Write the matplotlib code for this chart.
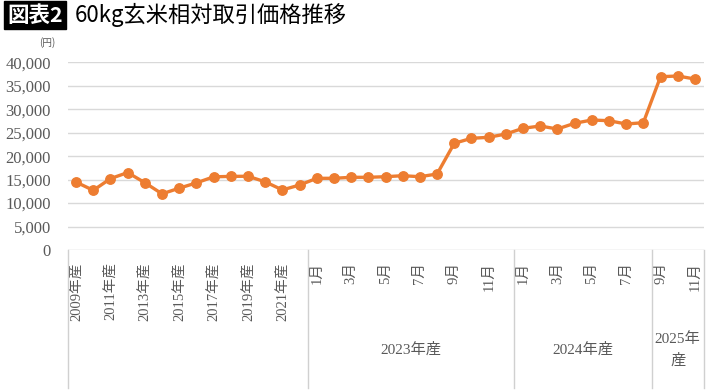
import matplotlib
matplotlib.use('Agg')
import matplotlib.pyplot as plt
import matplotlib.transforms as mtransforms


######################
years = ['2009年産', '2010年産', '2011年産', '2012年産', '2013年産', '2014年産', '2015年産',
         '2016年産', '2017年産', '2018年産', '2019年産', '2020年産', '2021年産', '2022年産']
year_prices = [14470, 12711, 15215, 16501, 14341, 11967, 13175,
               14307, 15595, 15688, 15716, 14529, 12804, 13844]

groups = ['2023年産', '2024年産', '2025年\n産']
group_months = [list(range(1, 13)), list(range(1, 9)), [9, 10, 11]]
month_prices = [
    [15279, 15279, 15492, 15492, 15620, 15833, 15620, 16196, 22737, 23803, 24016, 24720],
    [25934, 26424, 25785, 27000, 27703, 27554, 26851, 27128],
    [36930, 37079, 36440],
]
##########################

ORANGE = '#ED7D31'
GREY = '#595959'
SERIF = ['Liberation Serif', 'Noto Sans CJK JP']
SANS = ['Noto Sans CJK JP', 'DejaVu Sans']


def main():
    values = list(year_prices)
    labels = [y if i % 2 == 0 else '' for i, y in enumerate(years)]
    for months, prices in zip(group_months, month_prices):
        values += prices
        labels += ['{}月'.format(m) if m % 2 == 1 else '' for m in months]
    xs = list(range(len(values)))

    fig = plt.figure(figsize=(7.10, 3.91), dpi=100)
    ax = fig.add_axes([67.5 / 710, 1 - 250 / 391, 636 / 710, 187.7 / 391])

    for v in range(5000, 40001, 5000):
        ax.axhline(v, color='#D9D9D9', lw=1, zorder=0)
    ax.axhline(0, color='#D0D0D0', lw=1, zorder=0)

    ax.plot(xs, values, color=ORANGE, lw=2.4, marker='o', markersize=6.8, zorder=3)

    ax.set_xlim(-0.5, len(values) - 0.5)
    ax.set_ylim(0, 40000)
    for s in ax.spines.values():
        s.set_visible(False)

    ax.set_yticks(range(0, 40001, 5000))
    ax.set_yticklabels(['{:,}'.format(v) for v in range(0, 40001, 5000)],
                       family=SERIF, fontsize=12, color=GREY)
    ax.tick_params(axis='y', length=0, pad=12)

    ax.set_xticks(xs)
    ax.set_xticklabels(labels, rotation=90, va='top', ha='center',
                       family=SERIF, fontsize=10.5, color=GREY)
    ax.tick_params(axis='x', length=0, pad=9)

    # category boxes below the axis
    trans = mtransforms.blended_transform_factory(ax.transData, ax.transAxes)
    bottom = -(388 - 250) / 187.7
    edges = [-0.5, len(years) - 0.5]
    for months in group_months:
        edges.append(edges[-1] + len(months))
    for e in edges:
        ax.plot([e, e], [0, bottom], color='#D0D0D0', lw=1,
                transform=trans, clip_on=False)
    for i, g in enumerate(groups):
        c = (edges[i + 1] + edges[i + 2]) / 2
        ax.text(c, -(350 - 250) / 187.7, g, transform=trans, ha='center', va='center',
                family=SERIF, fontsize=11, color=GREY, linespacing=1.6)

    fig.text(7 / 710, 1 - 15 / 391, '図表2', family=SANS, fontsize=15.5, fontweight='bold',
             color='white', va='center', ha='left',
             bbox=dict(boxstyle='square,pad=0.15', fc='black', ec='black'))
    fig.text(75 / 710, 1 - 15 / 391, '60kg玄米相対取引価格推移', family=SANS, fontsize=16,
             color='black', va='center', ha='left')
    fig.text(47 / 710, 1 - 43 / 391, '(円)', family=SANS, fontsize=7, color=GREY,
             va='center', ha='center')

    fig.savefig('out.png', dpi=100)


if __name__ == '__main__':
    main()
